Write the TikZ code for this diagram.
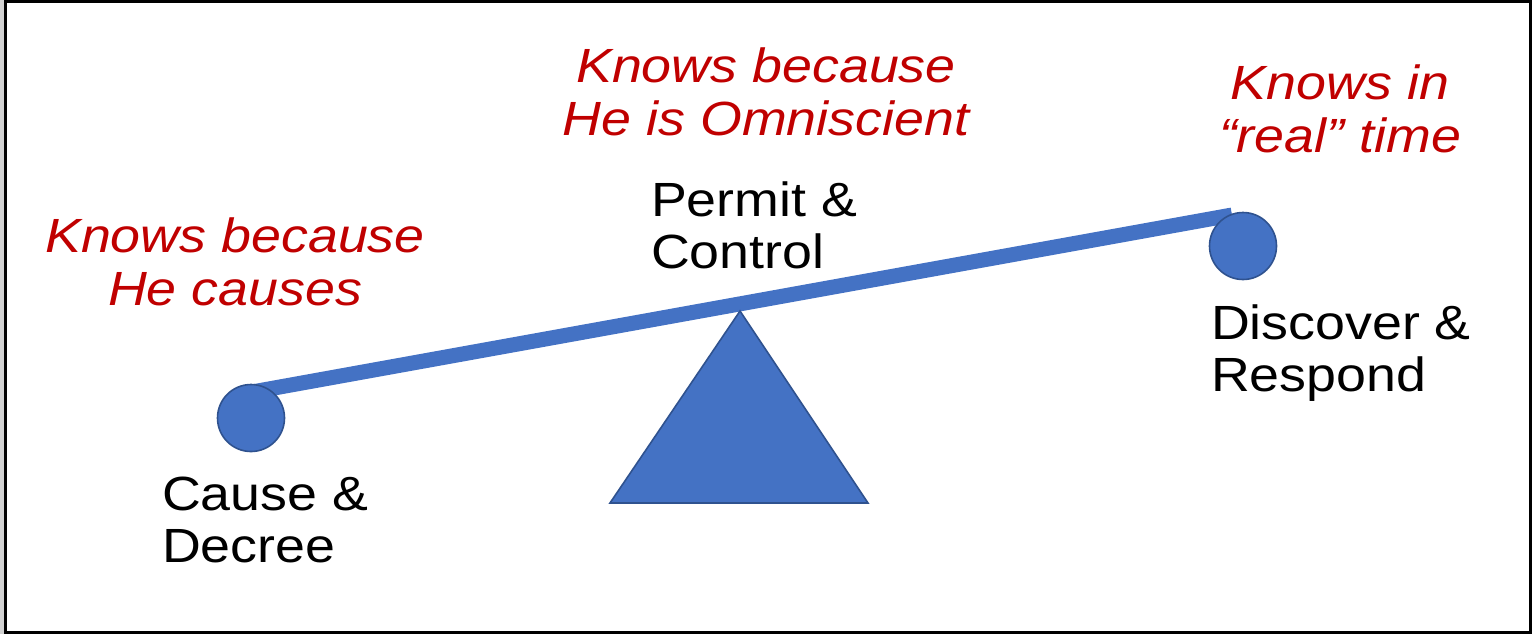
\documentclass[tikz,border=0pt]{standalone}
\usepackage{fontspec}
\setmainfont{Liberation Sans}[FakeStretch=1.12]
\definecolor{oblue}{HTML}{4472C4}
\definecolor{oedge}{HTML}{2F528F}
\definecolor{ored}{HTML}{C00000}
\begin{document}
\begin{tikzpicture}[x=0.5pt,y=-0.5pt,
  blacklbl/.style={inner sep=0pt, outer sep=0pt, align=left, anchor=north west,
    font=\fontsize{24pt}{26pt}\selectfont, text=black},
  redlbl/.style={inner sep=0pt, outer sep=0pt, align=center, anchor=north,
    font=\fontsize{24pt}{26.5pt}\selectfont\itshape, text=ored},
  ball/.style={circle, fill=oblue, draw=oedge, line width=0.8pt, minimum size=33.5pt, inner sep=0pt},
  beam/.style={draw=oblue, line width=7.5pt},
  fulcrum/.style={fill=oblue, draw=oedge, line width=0.8pt, line join=miter}]
\useasboundingbox (0,0) rectangle (1532,634);
\fill[black!18] (0,0) rectangle (4,634);
\draw[line width=1.5pt] (5.5,1.5) rectangle (1530.5,632.5);
% beam
\coordinate (bl) at (252,392);
\coordinate (br) at (1232,215);
\draw[beam] (bl) -- (br);
% balls
\node[ball] (lc) at (251,418) {};
\node[ball] (rc) at (1243,246) {};
% fulcrum
\coordinate (apex) at (740,311);
\coordinate (bL) at (610,503);
\coordinate (bR) at (868,503);
\filldraw[fulcrum] (apex) -- (bR) -- (bL) -- cycle;
% labels
\node[redlbl] (omni) at (766,48) {Knows because\\He is Omniscient};
\node[redlbl] (real) at (1340,65) {Knows in\\“real” time};
\node[redlbl] (causes) at (235,218) {Knows because\\He causes};
\node[blacklbl] (permit) at (651,182) {Permit \&\\Control};
\node[blacklbl] (discover) at (1211,305) {Discover \&\\Respond};
\node[blacklbl] (cause) at (162,477) {Cause \&\\Decree};
\end{tikzpicture}
\end{document}
